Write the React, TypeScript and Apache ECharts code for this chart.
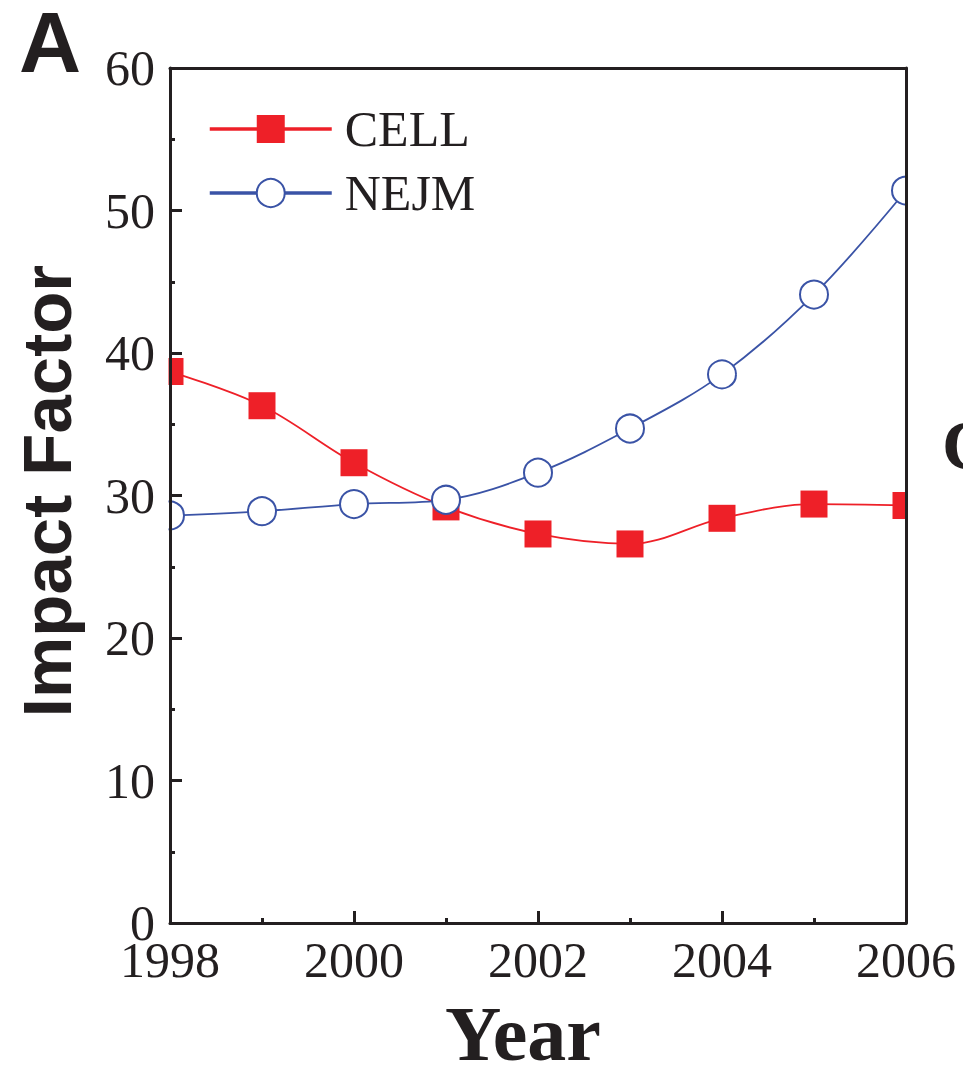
import React, { useEffect, useRef } from "react";
import * as echarts from "echarts";

const years = [1998, 1999, 2000, 2001, 2002, 2003, 2004, 2005, 2006];
const cellValues = [38.7, 36.3, 32.3, 29.2, 27.3, 26.6, 28.4, 29.4, 29.3];
const nejmValues = [28.6, 28.9, 29.4, 29.7, 31.6, 34.7, 38.5, 44.1, 51.4];
const seriesNames = ["CELL", "NEJM"];

const RED = "#ee2028";
const BLUE = "#3a53a6";
const INK = "#231f20";

export default function App() {
  const ref = useRef<HTMLDivElement>(null);
  useEffect(() => {
    if (!ref.current) return;
    const chart = echarts.init(ref.current, null, { renderer: "svg" });
    const axisLine = { show: true, onZero: false, lineStyle: { color: INK, width: 3 } };
    const tickLabel = {
      color: INK,
      fontFamily: "Liberation Serif",
      fontSize: 50,
    };
    chart.setOption({
      animation: false,
      backgroundColor: "#fff",
      grid: { left: 170, top: 68, right: 57, bottom: 142, containLabel: false },
      legend: {
        orient: "vertical",
        left: 208,
        top: 104,
        padding: 0,
        itemWidth: 122,
        itemHeight: 35,
        itemGap: 14,
        data: seriesNames,
        lineStyle: { width: 3.5 },
        textStyle: {
          color: INK,
          fontFamily: "Liberation Serif",
          fontSize: 50,
          padding: [0, 0, 0, 8],
        },
      },
      xAxis: [
        {
          type: "value",
          min: 1998,
          max: 2006,
          interval: 2,
          z: 5,
          axisLine,
          axisTick: { show: true, inside: true, length: 12, lineStyle: { color: INK, width: 3 } },
          minorTick: { show: true, splitNumber: 2, length: 5, lineStyle: { color: INK, width: 3 } },
          splitLine: { show: false },
          axisLabel: { ...tickLabel, margin: 12, formatter: (v: number) => String(v) },
        },
        {
          type: "value",
          min: 1998,
          max: 2006,
          position: "top",
          z: 5,
          axisLine,
          axisTick: { show: false },
          axisLabel: { show: false },
          splitLine: { show: false },
        },
      ],
      yAxis: [
        {
          type: "value",
          min: 0,
          max: 60,
          interval: 10,
          z: 5,
          axisLine,
          axisTick: { show: true, inside: true, length: 12, lineStyle: { color: INK, width: 3 } },
          minorTick: { show: true, splitNumber: 2, length: 5, lineStyle: { color: INK, width: 3 } },
          splitLine: { show: false },
          axisLabel: { ...tickLabel, margin: 15 },
        },
        {
          type: "value",
          min: 0,
          max: 60,
          position: "right",
          z: 5,
          axisLine,
          axisTick: { show: false },
          axisLabel: { show: false },
          splitLine: { show: false },
        },
      ],
      series: [
        {
          name: seriesNames[0],
          type: "line",
          xAxisIndex: 0,
          yAxisIndex: 0,
          data: years.map((y, i) => [y, cellValues[i]]),
          smooth: 0.35,
          clip: false,
          symbol: "rect",
          symbolSize: 27,
          lineStyle: { color: RED, width: 1.8 },
          itemStyle: { color: RED },
          z: 2,
        },
        {
          name: seriesNames[1],
          type: "line",
          xAxisIndex: 0,
          yAxisIndex: 0,
          data: years.map((y, i) => [y, nejmValues[i]]),
          smooth: 0.35,
          clip: false,
          symbol: "emptyCircle",
          symbolSize: 28,
          lineStyle: { color: BLUE, width: 1.8 },
          itemStyle: { color: BLUE, borderColor: BLUE, borderWidth: 2 },
          z: 3,
        },
      ],
      graphic: [
        { type: "rect", z: 4, shape: { x: 120, y: 60, width: 48.5, height: 870 }, style: { fill: "#fff" }, silent: true },
        { type: "rect", z: 4, shape: { x: 907.5, y: 60, width: 30, height: 870 }, style: { fill: "#fff" }, silent: true },
        {
          type: "text",
          z: 6,
          x: 19,
          y: 42,
          style: { text: "A", font: "bold 86px 'Liberation Sans', Arial, sans-serif", fill: INK, textAlign: "left", textVerticalAlign: "middle" },
        },
        {
          type: "text",
          z: 6,
          x: 47,
          y: 491,
          rotation: Math.PI / 2,
          style: { text: "Impact Factor", font: "bold 69px 'Liberation Sans', Arial, sans-serif", fill: INK, textAlign: "center", textVerticalAlign: "middle" },
        },
        {
          type: "text",
          z: 6,
          x: 523,
          y: 1033,
          style: { text: "Year", font: "bold 78px 'Liberation Serif', 'Times New Roman', serif", fill: INK, textAlign: "center", textVerticalAlign: "middle" },
        },
        {
          type: "text",
          z: 6,
          x: 942,
          y: 445,
          style: { text: "C", font: "bold 70px 'Liberation Serif', 'Times New Roman', serif", fill: INK, textAlign: "left", textVerticalAlign: "middle" },
        },
      ],
    });
    return () => chart.dispose();
  }, []);
  return (
    <div
      ref={ref}
      style={{ position: "fixed", left: 0, top: 0, width: 963, height: 1065, background: "#fff" }}
    />
  );
}
